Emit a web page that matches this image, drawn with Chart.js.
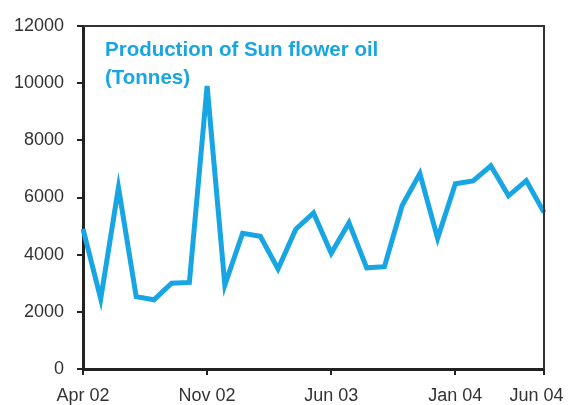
<!DOCTYPE html>
<html>
<head>
<meta charset="utf-8">
<script src="https://cdn.jsdelivr.net/npm/chart.js@4.4.1/dist/chart.umd.min.js"></script>
<style>
    html, body { margin: 0; padding: 0; background: #fff; }
    #wrap { width: 570px; height: 405px; }
</style>
</head>
<body>
<div id="wrap"><canvas id="chart" width="570" height="405"></canvas></div>
<script>
// months Apr 02 .. Jun 04
const months = [
    'Apr 02', 'May 02', 'Jun 02', 'Jul 02', 'Aug 02', 'Sep 02', 'Oct 02', 'Nov 02', 'Dec 02',
    'Jan 03', 'Feb 03', 'Mar 03', 'Apr 03', 'May 03', 'Jun 03', 'Jul 03', 'Aug 03', 'Sep 03',
    'Oct 03', 'Nov 03', 'Dec 03', 'Jan 04', 'Feb 04', 'Mar 04', 'Apr 04', 'May 04', 'Jun 04'
];
const production = [
    4900, 2450, 6350, 2530, 2420, 3000, 3030, 9900, 2940,
    4750, 4640, 3500, 4890, 5460, 4050, 5120, 3540, 3580,
    5720, 6840, 4570, 6480, 6580, 7110, 6060, 6590, 5480
];
const shownMonths = ['Apr 02', 'Nov 02', 'Jun 03', 'Jan 04', 'Jun 04'];
const yTicks = [0, 2000, 4000, 6000, 8000, 10000, 12000];

const titleLines = ['Production of Sun flower oil', '(Tonnes)'];
const blue = '#17a5e3';
const axisColor = '#222';

// frame round the plot + title inside the plot
const framePlugin = {
    id: 'frame',
    afterDraw(chart) {
        const { ctx, chartArea } = chart;
        ctx.save();
        ctx.strokeStyle = '#333';
        ctx.lineWidth = 2;
        ctx.beginPath();
        ctx.moveTo(chartArea.left, chartArea.top);
        ctx.lineTo(chartArea.right, chartArea.top);
        ctx.lineTo(chartArea.right, chartArea.bottom);
        ctx.stroke();

        ctx.fillStyle = blue;
        ctx.font = 'bold 20.5px "Liberation Sans", Arial, sans-serif';
        ctx.textBaseline = 'alphabetic';
        ctx.fillText(titleLines[0], chartArea.left + 22, 56);
        ctx.fillText(titleLines[1], chartArea.left + 22, 84);
        ctx.restore();
    }
};

const tickFont = { family: '"Liberation Sans", Arial, sans-serif', size: 18 };

new Chart(document.getElementById('chart'), {
    type: 'line',
    data: {
        labels: months,
        datasets: [{
            label: 'Production of Sun flower oil (Tonnes)',
            data: production,
            borderColor: blue,
            borderWidth: 5,
            pointRadius: 0,
            tension: 0,
            borderJoinStyle: 'miter'
        }]
    },
    options: {
        responsive: false,
        animation: false,
        layout: { padding: { top: 26, right: 26, left: 0, bottom: 0 } },
        plugins: {
            legend: { display: false },
            tooltip: { enabled: false }
        },
        scales: {
            x: {
                offset: false,
                grid: { drawOnChartArea: false, drawTicks: true, tickLength: 6, color: axisColor, lineWidth: 2 },
                border: { display: true, color: axisColor, width: 3 },
                ticks: {
                    autoSkip: false,
                    maxRotation: 0,
                    padding: 10,
                    color: '#333',
                    font: tickFont,
                    callback: function (v) {
                        const m = months[v];
                        if (!shownMonths.includes(m)) return null;
                        // last label sits pulled in from the corner
                        return v === months.length - 1 ? m + '\u00a0\u00a0\u00a0' : m;
                    }
                },
                afterFit(scale) {
                    scale.height = 36;
                    scale.paddingRight = 0;
                    scale.paddingLeft = 0;
                }
            },
            y: {
                min: 0,
                max: 12000,
                afterBuildTicks(scale) { scale.ticks = yTicks.map(v => ({ value: v })); },
                grid: { drawOnChartArea: false, drawTicks: true, tickLength: 6, color: axisColor, lineWidth: 2 },
                border: { display: true, color: axisColor, width: 3 },
                ticks: { padding: 13, color: '#333', font: tickFont, callback: v => String(v) },
                afterFit(scale) { scale.width = 83; }
            }
        }
    },
    plugins: [framePlugin]
});
</script>
</body>
</html>
